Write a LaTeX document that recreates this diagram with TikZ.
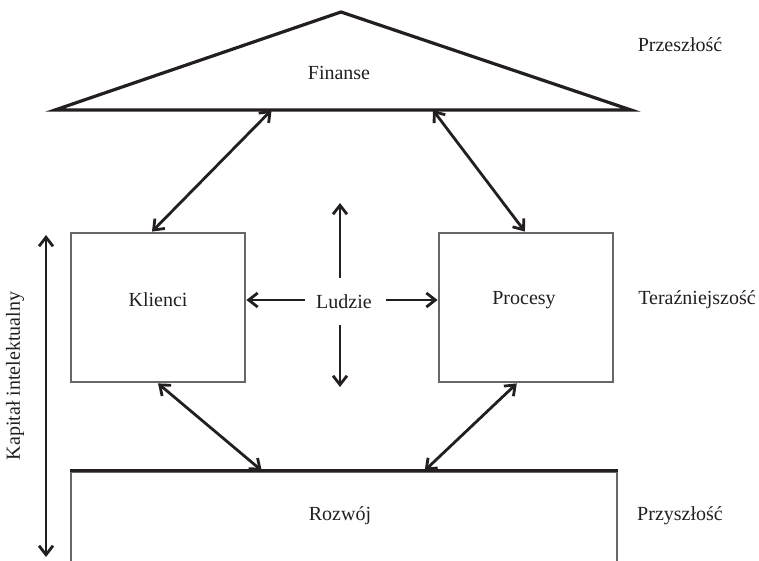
\documentclass[tikz,border=0pt]{standalone}
\usepackage{fontspec}
\setmainfont{Liberation Serif}
\usetikzlibrary{arrows.meta,calc}
\definecolor{ink}{HTML}{231F20}
\definecolor{boxgray}{HTML}{676767}
\tikzset{
  box/.style={draw=boxgray,line width=2.8pt,minimum width=174pt,minimum height=149pt,inner sep=0pt},
  lbl/.style={font=\fontsize{20}{24}\selectfont,text=ink,inner sep=0pt},
  tip/.tip={Straight Barb[length=9pt,width=14pt,line width=2.8pt]},
  dbl/.style={draw=ink,line width=2.8pt,tip-tip},
  sgl/.style={draw=ink,line width=2.8pt,-tip}
}
\begin{document}
\begin{tikzpicture}[x=1pt,y=-1pt]
\clip (0,0) rectangle (759,561);
% triangle
\coordinate (apex) at (341,12);
\coordinate (bl) at (55,110);
\coordinate (br) at (631,110);
\draw[ink,line width=3.2pt,line join=miter] (bl) -- (apex) -- (br) -- cycle;
\node[lbl] (finanse) at (339,73) {Finanse};
% boxes
\node[box] (klienci) at (158,307.5) {};
\node[lbl] at (158,300) {Klienci};
\node[box] (procesy) at (526,307.5) {};
\node[lbl] at (524,300) {Procesy};
\node[draw=boxgray,line width=2.8pt,minimum width=546pt,minimum height=100pt,inner sep=0pt] (rozwoj) at (344,522) {};
\draw[ink,line width=3.2pt] (rozwoj.north west) -- (rozwoj.north east);
\node[lbl] at (340,516) {Rozwój};
% ludzie
\node[lbl] (ludzie) at (344,302) {Ludzie};
\coordinate (lup1) at (340,278);
\coordinate (lup2) at (340,203);
\coordinate (ldn1) at (340,325);
\coordinate (ldn2) at (340,387);
\coordinate (lle) at (305,300);
\coordinate (lri) at (386,300);
\draw[sgl] (lle) -- (klienci.east |- lle);
\draw[sgl] (lri) -- (procesy.west |- lri);
\draw[sgl] (lup1) -- (lup2);
\draw[sgl] (ldn1) -- (ldn2);
% diagonal arrows
\draw[dbl] ($(klienci.north west)!0.466!(klienci.north east)$) -- ($(bl)!0.376!(br)$);
\draw[dbl] ($(procesy.north west)!0.494!(procesy.north east)$) -- ($(bl)!0.656!(br)$);
\draw[dbl] ($(klienci.south west)!0.5!(klienci.south east)$) -- ($(rozwoj.north west)!0.35!(rozwoj.north east)$);
\draw[dbl] ($(procesy.south west)!0.448!(procesy.south east)$) -- ($(rozwoj.north west)!0.647!(rozwoj.north east)$);
% capital arrow
\coordinate (kt) at (46,235);
\coordinate (kb) at (46,557);
\draw[dbl] (kt) -- (kb);
\node[lbl,rotate=90] (kap) at (15,376) {Kapitał intelektualny};
% time labels
\node[lbl] (past) at (680,45) {Przeszłość};
\node[lbl] (now) at (697,300) {Teraźniejszość};
\node[lbl] (fut) at (680,516) {Przyszłość};
\end{tikzpicture}
\end{document}
